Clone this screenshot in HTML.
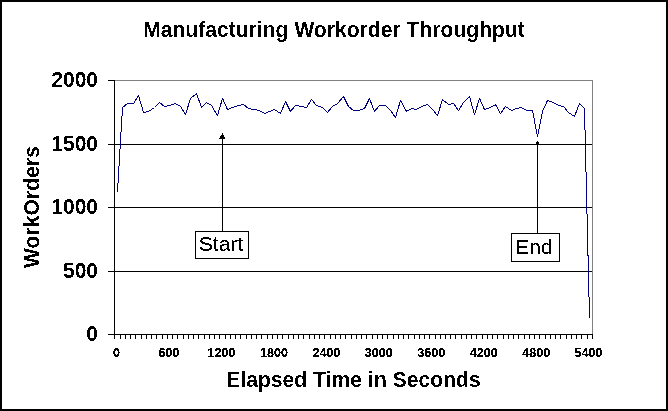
<!DOCTYPE html>
<html><head><meta charset="utf-8"><style>
html,body{margin:0;padding:0;background:#fff;}
svg{display:block;}
text{font-family:"Liberation Sans",Arial,sans-serif;fill:#000;}
.t{font-weight:bold;font-size:21px;}
.yl{font-weight:bold;font-size:21px;text-anchor:end;}
.xl{font-weight:bold;font-size:12.6px;text-anchor:middle;}
.bx{font-size:21px;}
</style></head><body>
<svg width="668" height="411" viewBox="0 0 668 411">
<defs><filter id="cr" x="-5%" y="-20%" width="110%" height="140%"><feComponentTransfer><feFuncA type="discrete" tableValues="0 1"/></feComponentTransfer></filter><filter id="cr2" x="-5%" y="-20%" width="110%" height="140%"><feComponentTransfer><feFuncA type="discrete" tableValues="0 1 1 1"/></feComponentTransfer></filter><filter id="cr3" x="-5%" y="-20%" width="110%" height="140%"><feComponentTransfer><feFuncA type="discrete" tableValues="0 0 1 1 1"/></feComponentTransfer></filter></defs>
<rect x="0" y="0" width="668" height="411" fill="#fff"/>
<rect x="1" y="1" width="666" height="409" fill="none" stroke="#000" stroke-width="2"/>
<g shape-rendering="crispEdges" fill="none">
<path d="M114 80.5H592.5V334" stroke="#808080"/>
<path d="M108 144.5H592M108 207.5H592M108 271.5H592M108 80.5H114M108 334.5H592.5" stroke="#000"/>
<path d="M114.5 80V339" stroke="#000"/>
<path d="M114.5 334V339M120.5 334V339M125.5 334V339M130.5 334V339M135.5 334V339M141.5 334V339M146.5 334V339M151.5 334V339M156.5 334V339M162.5 334V339M167.5 334V339M172.5 334V339M177.5 334V339M183.5 334V339M188.5 334V339M193.5 334V339M198.5 334V339M204.5 334V339M209.5 334V339M214.5 334V339M219.5 334V339M225.5 334V339M230.5 334V339M235.5 334V339M240.5 334V339M246.5 334V339M251.5 334V339M256.5 334V339M261.5 334V339M267.5 334V339M272.5 334V339M277.5 334V339M282.5 334V339M288.5 334V339M293.5 334V339M298.5 334V339M303.5 334V339M309.5 334V339M314.5 334V339M319.5 334V339M324.5 334V339M330.5 334V339M335.5 334V339M340.5 334V339M345.5 334V339M351.5 334V339M356.5 334V339M361.5 334V339M366.5 334V339M372.5 334V339M377.5 334V339M382.5 334V339M387.5 334V339M393.5 334V339M398.5 334V339M403.5 334V339M408.5 334V339M414.5 334V339M419.5 334V339M424.5 334V339M429.5 334V339M435.5 334V339M440.5 334V339M445.5 334V339M450.5 334V339M455.5 334V339M461.5 334V339M466.5 334V339M471.5 334V339M476.5 334V339M482.5 334V339M487.5 334V339M492.5 334V339M497.5 334V339M503.5 334V339M508.5 334V339M513.5 334V339M518.5 334V339M524.5 334V339M529.5 334V339M534.5 334V339M539.5 334V339M545.5 334V339M550.5 334V339M555.5 334V339M560.5 334V339M566.5 334V339M571.5 334V339M576.5 334V339M581.5 334V339M587.5 334V339M592.5 334V339" stroke="#000"/>
</g>
<g filter="url(#cr)">
<text transform="translate(98,87) scale(1,1.05)" class="yl">2000</text><text transform="translate(98,151) scale(1,1.05)" class="yl">1500</text><text transform="translate(98,214) scale(1,1.05)" class="yl">1000</text><text transform="translate(98,278) scale(1,1.05)" class="yl">500</text><text transform="translate(98,341) scale(1,1.05)" class="yl">0</text>
</g><g filter="url(#cr3)"><text x="116.6" y="357" class="xl">0</text><text x="169.1" y="357" class="xl">600</text><text x="221.5" y="357" class="xl">1200</text><text x="274.0" y="357" class="xl">1800</text><text x="326.4" y="357" class="xl">2400</text><text x="378.8" y="357" class="xl">3000</text><text x="431.3" y="357" class="xl">3600</text><text x="483.7" y="357" class="xl">4200</text><text x="536.2" y="357" class="xl">4800</text><text x="588.6" y="357" class="xl">5400</text></g><g filter="url(#cr)">
<text transform="translate(334,37) scale(1,1.05)" class="t" text-anchor="middle" style="letter-spacing:0.06px">Manufacturing Workorder Throughput</text>
<text transform="translate(353.5,387) scale(1,1.05)" class="t" text-anchor="middle" style="letter-spacing:0.08px">Elapsed Time in Seconds</text>
<text transform="translate(39,207) rotate(-90) scale(1,1.05)" class="t" text-anchor="middle" style="letter-spacing:0.12px">WorkOrders</text>
</g>
<polyline points="117.5,191.5 122.5,107.5 127.5,103.5 133.5,103.5 138.5,95.5 143.5,112.5 148.5,111.5 154.5,107.5 159.5,102.5 164.5,106.5 169.5,105.5 175.5,103.5 180.5,106.5 185.5,114.5 190.5,98.5 196.5,93.5 201.5,107.5 206.5,102.5 211.5,105.5 217.5,115.5 222.5,98.5 227.5,109.5 232.5,107.5 238.5,105.5 243.5,104.5 248.5,108.5 253.5,109.5 259.5,110.5 264.5,113.5 269.5,111.5 274.5,109.5 280.5,113.5 285.5,101.5 290.5,111.5 295.5,105.5 301.5,106.5 306.5,107.5 311.5,99.5 316.5,105.5 322.5,107.5 327.5,112.5 332.5,106.5 337.5,103.5 343.5,96.5 348.5,106.5 353.5,110.5 358.5,110.5 364.5,108.5 369.5,98.5 374.5,111.5 379.5,105.5 385.5,105.5 390.5,110.5 395.5,117.5 400.5,100.5 406.5,111.5 411.5,108.5 416.5,109.5 421.5,106.5 427.5,104.5 432.5,109.5 437.5,115.5 442.5,99.5 448.5,104.5 453.5,103.5 458.5,110.5 463.5,102.5 469.5,96.5 474.5,114.5 479.5,98.5 484.5,109.5 490.5,107.5 495.5,104.5 500.5,113.5 505.5,106.5 511.5,110.5 516.5,108.5 521.5,107.5 526.5,110.5 532.5,110.5 537.5,136.5 542.5,111.5 547.5,100.5 553.5,102.5 558.5,105.5 563.5,106.5 568.5,112.5 574.5,116.5 579.5,103.5 584.5,108.5 589.5,317.5" fill="none" stroke="#000080" stroke-width="1" stroke-linejoin="bevel" stroke-linecap="square" shape-rendering="crispEdges"/>
<g shape-rendering="crispEdges">
<path d="M222.5 139V231M537.5 142V233" stroke="#000" fill="none"/>
<polygon points="222.5,133 225.5,139 219,139" fill="#000"/>
<polygon points="537.5,140.5 539.5,144 535.5,144" fill="#000"/>
<rect x="195.5" y="231.5" width="53" height="27" fill="#fff" stroke="#000"/>
<rect x="511.5" y="233.5" width="48" height="28" fill="#fff" stroke="#000"/>
</g>
<g filter="url(#cr3)">
<text x="198.8" y="250.5" class="bx">Start</text>
<text x="515.3" y="253.5" class="bx">End</text>
</g>
</svg>
</body></html>
